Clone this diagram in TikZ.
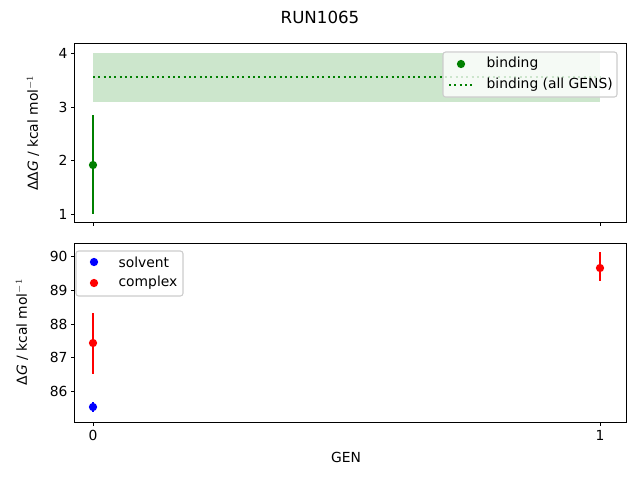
\documentclass[tikz,border=0pt]{standalone}
\usepackage{fontspec}
\setmainfont{DejaVu Sans}
\usetikzlibrary{positioning}
\definecolor{mplgreen}{RGB}{0,128,0}
\definecolor{mplblue}{RGB}{0,0,255}
\definecolor{mplred}{RGB}{255,0,0}
\tikzset{
  axisbox/.style={draw=black,line width=0.6pt},
  ticklbl/.style={font=\fontsize{10.4}{12}\selectfont,inner sep=1pt},
  axlbl/.style={font=\fontsize{10.4}{12}\selectfont,inner sep=1pt},
  errbar/.style={#1,line width=1.5pt},
  dots/.style={dash pattern=on 1.5pt off 2.5pt,line width=1.5pt},
  datapt/.style={circle,fill=#1,inner sep=0pt,minimum size=6.2pt},
  legbox/.style={draw=black!20,fill=white,fill opacity=0.8,text opacity=1,rounded corners=2pt,line width=0.8pt}
}
\begin{document}
\begin{tikzpicture}[x=0.75pt,y=-0.75pt]
\useasboundingbox (0,0) rectangle (640,480);

\def\tk{3.5}

% title
\node (title) [font=\fontsize{12.5}{14}\selectfont] at (320,17) {RUN1065};

% top panel
\fill [mplgreen,opacity=0.2] (93,53) rectangle (600,102);
\draw [mplgreen,dots] (93,77) -- (600,77);
\draw [errbar=mplgreen] (93,115) -- (93,214);
\node (bind0) [datapt=mplgreen] at (93,165) {};
\draw [axisbox] (74,43) rectangle (626,222);
\foreach \v/\y in {1/214,2/160,3/107,4/53}
{
    \draw [line width=0.6pt] (74,\y) -- ++(-\tk,0);
    \node [ticklbl,anchor=east] at (69,\y) {\v};
}
\foreach \x in {93,600}
    \draw [line width=0.6pt] (\x,222) -- ++(0,\tk);
\node (ylabtop) [axlbl,rotate=90] at (33,133) {ΔΔ\textit{G} / kcal mol$^{-1}$};

% top legend
\draw [legbox] (443,52) rectangle (617,97);
\node (legbind) [datapt=mplgreen] at (461,64) {};
\node [ticklbl,anchor=west] at (485,64) {binding};
\draw [mplgreen,dots] (449,85) -- (474,85);
\node [ticklbl,anchor=west] at (485,85) {binding (all GENS)};

% bottom panel
\draw [errbar=mplblue] (93,402) -- (93,412);
\node (solv0) [datapt=mplblue] at (93,407) {};
\draw [errbar=mplred] (93,313) -- (93,374);
\node (cplx0) [datapt=mplred] at (93,343) {};
\draw [errbar=mplred] (600,252) -- (600,281);
\node (cplx1) [datapt=mplred] at (600,268) {};
\draw [axisbox] (74,243) rectangle (626,422);
\foreach \v/\y in {86/391,87/357,88/324,89/290,90/256}
{
    \draw [line width=0.6pt] (74,\y) -- ++(-\tk,0);
    \node [ticklbl,anchor=east] at (69,\y) {\v};
}
\foreach \x/\v in {93/0,600/1}
{
    \draw [line width=0.6pt] (\x,422) -- ++(0,\tk);
    \node [ticklbl,anchor=north] at (\x,429) {\v};
}
\node (ylabbot) [axlbl,rotate=90] at (22,332) {Δ\textit{G} / kcal mol$^{-1}$};
\node (xlab) [axlbl] at (346,457) {GEN};

% bottom legend
\draw [legbox] (76,251) rectangle (183,296);
\node (legsolv) [datapt=mplblue] at (94,262) {};
\node [ticklbl,anchor=west] at (117,262) {solvent};
\node (legcplx) [datapt=mplred] at (94,283) {};
\node [ticklbl,anchor=west] at (117,283) {complex};

\end{tikzpicture}
\end{document}
